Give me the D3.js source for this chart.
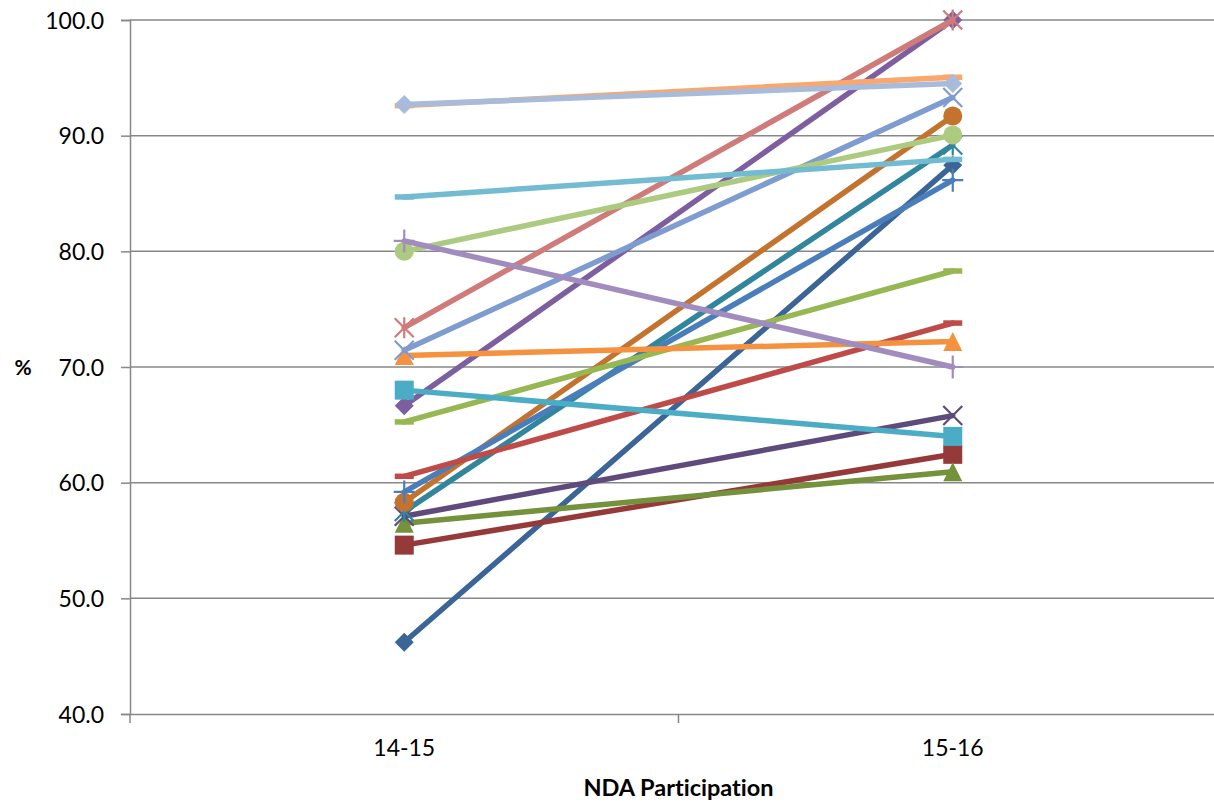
<!DOCTYPE html>
<html>
<head>
<meta charset="utf-8">
<script src="https://cdn.jsdelivr.net/npm/d3@7"></script>
<style>
  html, body { margin: 0; padding: 0; background: #ffffff; }
  svg { display: block; }
  text { font-family: Lato, "Open Sans", "Liberation Sans", sans-serif; fill: #000; font-variant-ligatures: none; font-feature-settings: "liga" 0, "clig" 0; }
</style>
</head>
<body>
<svg id="chart" width="1214" height="802"></svg>
<script>
// Categories on the x axis
const categories = ["14-15", "15-16"];

// Participation (%) per series, one value per category
const seriesValues = [
  [46.2, 87.45],
  [54.6, 62.45],
  [56.5, 60.95],
  [57.1, 65.8],
  [57.5, 89.2],
  [58.3, 91.7],
  [59.2, 86.15],
  [60.55, 73.8],
  [65.25, 78.3],
  [66.65, 100.0],
  [68.0, 64.0],
  [71.0, 72.2],
  [71.45, 93.3],
  [73.4, 100.0],
  [80.0, 90.05],
  [80.9, 70.0],
  [84.7, 87.95],
  [92.6, 95.05],
  [92.7, 94.5]
];

// Line / marker colour of each series
const seriesColors = [
  "#3c6597", "#953a38", "#74913c", "#5f4a7c", "#31869d", "#c4732f",
  "#4a7ebb", "#be4b48", "#96b752", "#7d5fa0", "#4aacc5", "#f59240",
  "#7e9ccf", "#cf7b79", "#adcb80", "#a18cbe", "#72bbd1", "#f9a76d",
  "#a9bbdb"
];

// Marker shape of each series
const seriesMarkers = [
  "diamond", "square", "triangle", "x", "asterisk", "circle", "plus", "dash", "dash",
  "diamond", "square", "triangle", "x", "asterisk", "circle", "plus", "dash", "dash",
  "diamond"
];

// Value axis ticks
const yTicks = [40, 50, 60, 70, 80, 90, 100];

const xTitle = "NDA Participation";
const yTitle = "%";

const svg = d3.select("#chart");

const plot = { left: 130, right: 1227, top: 20, bottom: 714 };

const x = d3.scaleBand().domain(categories).range([plot.left, plot.right]).padding(0);
const y = d3.scaleLinear().domain([40, 100]).range([plot.bottom, plot.top]);
const cx = d => x(d) + x.bandwidth() / 2;

const axisColor = "#878787";

// Horizontal gridlines
svg.append("g")
  .selectAll("line")
  .data(yTicks.filter(t => t !== 40))
  .join("line")
  .attr("x1", plot.left).attr("x2", plot.right)
  .attr("y1", d => y(d)).attr("y2", d => y(d))
  .attr("stroke", axisColor).attr("stroke-width", 1.5);

// Value axis
const yAxis = d3.axisLeft(y)
  .tickValues(yTicks)
  .tickFormat(d3.format(".1f"))
  .tickSize(9)
  .tickPadding(17);
const gy = svg.append("g").attr("transform", `translate(${plot.left},0)`).call(yAxis);
gy.select(".domain").attr("stroke", axisColor).attr("stroke-width", 1.5);
gy.selectAll(".tick line").attr("stroke", axisColor).attr("stroke-width", 1.5);
gy.selectAll(".tick text")
  .attr("font-family", "Lato, 'Open Sans', sans-serif")
  .attr("font-size", 23)
  .attr("fill", "#000")
  .attr("dy", "0.36em");

// Category axis: ticks sit on the band boundaries
const gx = svg.append("g").attr("transform", `translate(0,${plot.bottom})`)
  .call(d3.axisBottom(x).tickSize(0).tickPadding(26));
gx.select(".domain").attr("stroke", axisColor).attr("stroke-width", 1.5);
gx.selectAll(".tick text")
  .attr("font-family", "Lato, 'Open Sans', sans-serif")
  .attr("font-size", 23)
  .attr("fill", "#000");
const bounds = [plot.left, ...categories.map(c => x(c) + x.bandwidth())];
gx.selectAll(".bound")
  .data(bounds)
  .join("line")
  .attr("class", "bound")
  .attr("x1", d => d).attr("x2", d => d)
  .attr("y1", 0).attr("y2", 9)
  .attr("stroke", axisColor).attr("stroke-width", 1.5);

// Axis titles
svg.append("text")
  .attr("x", (plot.left + plot.right) / 2)
  .attr("y", 796)
  .attr("text-anchor", "middle")
  .attr("font-size", 23.5)
  .attr("font-weight", "bold")
  .text(xTitle);

svg.append("text")
  .attr("x", 23)
  .attr("y", 375)
  .attr("text-anchor", "middle")
  .attr("font-size", 21)
  .attr("font-weight", "bold")
  .text(yTitle);

// Marker drawing
function drawMarker(g, type, color) {
  const s = 9.5;
  switch (type) {
    case "diamond":
      g.append("path").attr("d", `M0,${-s}L${s},0L0,${s}L${-s},0Z`).attr("fill", color);
      break;
    case "square":
      g.append("rect").attr("x", -s).attr("y", -s).attr("width", 2 * s).attr("height", 2 * s).attr("fill", color);
      break;
    case "triangle":
      g.append("path").attr("d", `M0,${-s}L${s},${s}L${-s},${s}Z`).attr("fill", color);
      break;
    case "circle":
      g.append("circle").attr("r", s).attr("fill", color);
      break;
    case "x":
      g.append("path").attr("d", `M${-s},${-s}L${s},${s}M${s},${-s}L${-s},${s}`)
        .attr("stroke", color).attr("stroke-width", 2.2).attr("fill", "none");
      break;
    case "asterisk":
      g.append("path").attr("d", `M${-s},${-s}L${s},${s}M${s},${-s}L${-s},${s}M0,${-s - 1}L0,${s + 1}`)
        .attr("stroke", color).attr("stroke-width", 2.2).attr("fill", "none");
      break;
    case "plus":
      g.append("path").attr("d", `M0,${-s - 2}L0,${s + 2}M${-s - 1},0L${s + 1},0`)
        .attr("stroke", color).attr("stroke-width", 2.2).attr("fill", "none");
      break;
    case "dash":
      g.append("rect").attr("x", -s).attr("y", -2.75).attr("width", 2 * s).attr("height", 5.5).attr("fill", color);
      break;
  }
}

const line = d3.line()
  .x((d, i) => cx(categories[i]))
  .y(d => y(d));

// Series, drawn in order so later series sit on top
seriesValues.forEach((vals, si) => {
  const color = seriesColors[si];
  const g = svg.append("g");
  g.append("path")
    .attr("d", line(vals))
    .attr("fill", "none")
    .attr("stroke", color)
    .attr("stroke-width", 5.5)
    .attr("stroke-linecap", "round")
    .attr("stroke-linejoin", "round");
  vals.forEach((v, i) => {
    const m = g.append("g").attr("transform", `translate(${cx(categories[i])},${y(v)})`);
    drawMarker(m, seriesMarkers[si], color);
  });
});
</script>
</body>
</html>
